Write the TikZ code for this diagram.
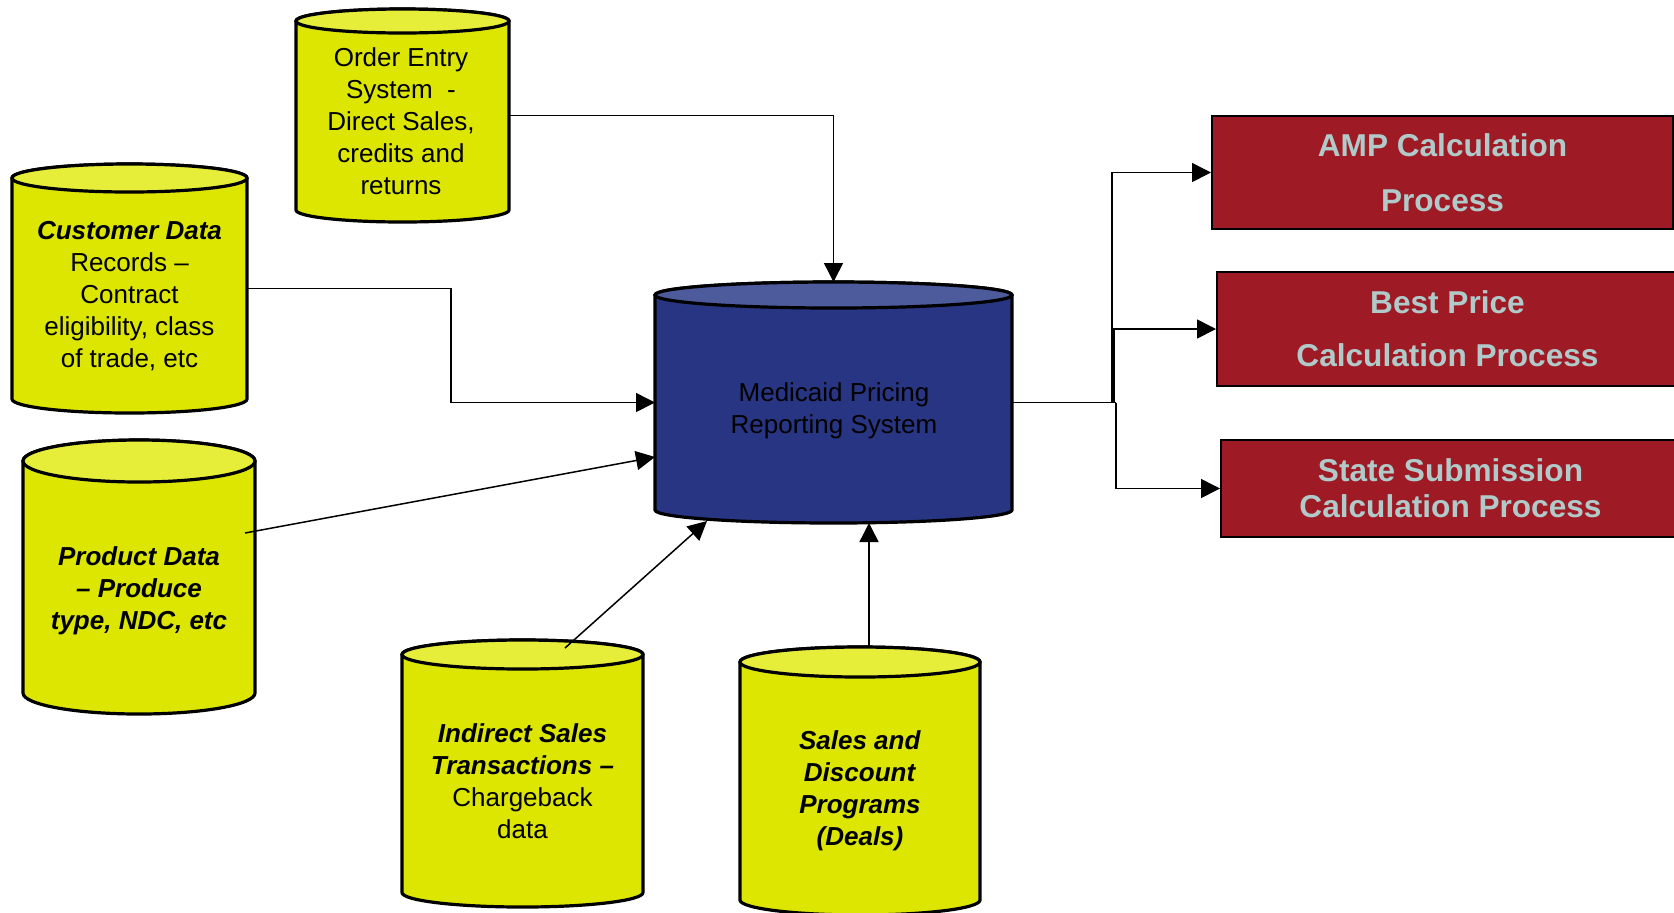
\documentclass[tikz,border=0pt]{standalone}
\usepackage{fontspec}
\setmainfont{Liberation Sans}
\usetikzlibrary{arrows.meta,calc}

\definecolor{dbyellow}{HTML}{DCE600}
\definecolor{dbyellowcap}{HTML}{E6EE3A}
\definecolor{dbnavy}{HTML}{283583}
\definecolor{dbnavycap}{HTML}{4D5A9C}
\definecolor{procred}{HTML}{9E1B25}
\definecolor{proctext}{HTML}{B0CACA}

\tikzset{
  cylline/.style={draw=black, line width=1.6pt},
  cylbox/.style={inner sep=0pt, outer sep=0pt},
  dbtext/.style={align=center, inner sep=0pt, font={\fontsize{13}{16}\selectfont}},
  procbox/.style={draw=black, line width=1pt, fill=procred, text=proctext,
    align=center, inner sep=0pt, minimum width=230.5pt},
  conn/.style={line width=0.75pt, -{Triangle[length=9.5pt, width=9.5pt]}},
}

% database cylinder: left x, right x, top y, bottom y, cap radius, body colour, cap colour
\newcommand\dbcyl[7]{%
  \pgfmathsetmacro\cylcx{(#1+#2)/2}%
  \pgfmathsetmacro\cylrx{(#2-#1)/2}%
  \pgfmathsetmacro\cylyt{-(#3+#5)}%
  \pgfmathsetmacro\cylyb{-(#4-#5)}%
  \filldraw[cylline, fill=#6] (#1,\cylyt) -- (#1,\cylyb)
    arc[start angle=180, end angle=360, x radius=\cylrx, y radius=#5]
    -- (#2,\cylyt)
    arc[start angle=0, end angle=180, x radius=\cylrx, y radius=#5] -- cycle;
  \filldraw[cylline, fill=#7] (\cylcx,\cylyt) ellipse[x radius=\cylrx, y radius=#5];
}

\begin{document}
\begin{tikzpicture}[x=0.5pt, y=0.5pt]
\useasboundingbox (0,0) rectangle (1674,-912);

% data sources and the central reporting system
\dbcyl{296}{509}{9}{222}{12}{dbyellow}{dbyellowcap}
\dbcyl{12}{247}{164}{413}{14}{dbyellow}{dbyellowcap}
\dbcyl{23}{255}{440}{714}{21}{dbyellow}{dbyellowcap}
\dbcyl{402}{643}{640}{907}{14.5}{dbyellow}{dbyellowcap}
\dbcyl{740}{980}{647}{915}{15}{dbyellow}{dbyellowcap}
\dbcyl{655}{1012}{282}{523}{13}{dbnavy}{dbnavycap}

\node[cylbox, minimum width=106.5pt, minimum height=106.5pt] (oe) at (402.5,-115.5) {};
\node[cylbox, minimum width=117.5pt, minimum height=124.5pt] (cd) at (129.5,-288.5) {};
\node[cylbox, minimum width=116pt, minimum height=137pt] (pd) at (139,-577) {};
\node[cylbox, minimum width=120.5pt, minimum height=133.5pt] (is) at (522.5,-773.5) {};
\node[cylbox, minimum width=120pt, minimum height=134pt] (sd) at (860,-781) {};
\node[cylbox, minimum width=178.5pt, minimum height=120.5pt] (mp) at (833.5,-402.5) {};

\node[dbtext] (oetext) at (401,-121)
  {Order Entry\\System\ \ -\\Direct Sales,\\credits and\\returns};
\node[dbtext] (cdtext) at (129.5,-296.5)
  {\textbf{\textit{Customer Data}}\\Records --\\Contract\\eligibility, class\\of trade, etc};
\node[dbtext] (pdtext) at (139,-591)
  {\textbf{\textit{Product Data}}\\\textbf{\textit{-- Produce}}\\\textbf{\textit{type, NDC, etc}}};
\node[dbtext] (istext) at (522.5,-781.5)
  {\textbf{\textit{Indirect Sales}}\\\textbf{\textit{Transactions --}}\\Chargeback\\data};
\node[dbtext] (sdtext) at (860,-791)
  {\textbf{\textit{Sales and}}\\\textbf{\textit{Discount}}\\\textbf{\textit{Programs}}\\\textbf{\textit{(Deals)}}};
\node[dbtext] (mptext) at (834,-411)
  {Medicaid Pricing\\Reporting System};

% calculation processes
\node[procbox, minimum height=56.5pt, font={\fontsize{15.8}{27.5}\selectfont\bfseries}]
  (amp) at (1442.5,-172.5) {AMP Calculation\\Process};
\node[procbox, minimum height=57pt, font={\fontsize{15.8}{26.5}\selectfont\bfseries}]
  (bp) at (1447.5,-329) {Best Price\\Calculation Process};
\node[procbox, minimum width=229.5pt, minimum height=48.5pt, font={\fontsize{15.8}{18}\selectfont\bfseries}]
  (ss) at (1450.5,-488.5) {State Submission\\Calculation Process};

% feeds into the reporting system
\draw[conn] (oe.east) -| (mp.north);
\draw[conn] (cd.east) -| ($(cd.east)!0.5!(mp.west)$) |- (mp.west);
\draw[conn] ([xshift=-5pt, yshift=22pt]pd.east) -- ([yshift=-27.25pt]mp.west);
\draw[conn] ([xshift=21.25pt, yshift=-4pt]is.north) -- ([xshift=-63.25pt, yshift=1pt]mp.south);
\draw[conn] ([xshift=4.5pt]sd.north) -- ([xshift=4.5pt]sd.north |- mp.south);

% outputs to the calculation processes
\draw[line width=0.75pt] (mp.east) -- ([xshift=52pt]mp.east);
\draw[conn] ([xshift=50pt]mp.east) |- (amp.west);
\draw[conn] ([xshift=51pt]mp.east) |- (bp.west);
\draw[conn] ([xshift=52pt]mp.east) |- (ss.west);
\end{tikzpicture}
\end{document}
